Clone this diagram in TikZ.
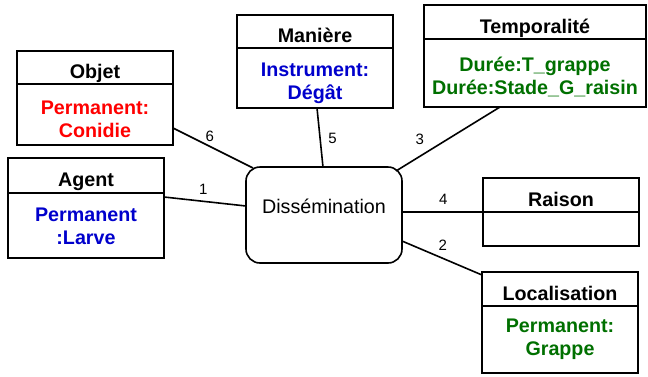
\documentclass[tikz,border=0pt]{standalone}
\usepackage{fontspec}
\setmainfont{Liberation Sans}
\usetikzlibrary{positioning}

\definecolor{rouge}{RGB}{255,0,0}
\definecolor{bleu}{RGB}{0,0,204}
\definecolor{vert}{RGB}{0,112,0}

% cales invisibles pour le placement vertical du texte
\newcommand{\haut}[1]{\rule{0pt}{#1}}
\newcommand{\bas}[1]{\rule[-#1]{0pt}{#1}}

\begin{document}
\begin{tikzpicture}[
				node distance=1cm and 1cm,
				head/.style={draw, line width=1.6pt, minimum width=156pt, minimum height=34pt, inner sep=0pt, outer sep=0pt, font=\fontsize{19.7}{23}\selectfont\bfseries, text height=25pt, text depth=3pt},
				body/.style={draw, line width=1.6pt, minimum width=156pt, inner sep=0pt, outer sep=0pt, align=center, font=\fontsize{19.7}{23}\selectfont\bfseries},
				event/.style={draw, line width=1.6pt, rounded corners=14pt, minimum width=156pt, minimum height=96pt, outer sep=0pt, font=\fontsize{19.7}{23}\selectfont, text height=18pt, text depth=22pt},
				num/.style={inner sep=1pt, font=\fontsize{15}{18}\selectfont},
				link/.style={line width=1.6pt}
				]
				\useasboundingbox (-324pt,215pt) rectangle (324pt,-161pt);
				
				% l'evenement
				\node[event] (diss) at (0,0) {Dissémination};
				
				% roles a gauche
				\node[head, minimum height=33pt, above left=83pt and 73pt of diss] (objet) {Objet};
				\node[body, minimum height=61pt, text=rouge, below=0pt of objet] (objetB) {\haut{22.4pt}Permanent:\\Conidie};
				
				\node[head, minimum height=35pt, above left=22pt and 82pt of diss.west] (agent) {Agent};
				\node[body, minimum height=65pt, text=bleu, below=0pt of agent] (agentB) {\haut{15.4pt}Permanent\\:Larve};
				
				% roles en haut
				\node[head, minimum height=33pt, above=119pt of diss, xshift=-9pt] (maniere) {Manière};
				\node[body, minimum height=60pt, text=bleu, below=0pt of maniere] (maniereB) {\haut{23.6pt}Instrument:\\Dégât};
				
				\node[head, minimum width=222pt, above right=128pt and 22pt of diss] (temp) {Temporalité};
				\node[body, minimum width=222pt, minimum height=68pt, text=vert, below=0pt of temp] (tempB) {\haut{24pt}Durée:T\_grappe\\Durée:Stade\_G\_raisin\bas{5pt}};
				
				% roles a droite
				\node[head, above right=3pt and 81pt of diss.east] (raison) {Raison};
				\node[body, minimum height=34pt, below=0pt of raison] (raisonB) {};
				
				\node[head, below right=9pt and 80pt of diss] (loc) {Localisation};
				\node[body, minimum height=67pt, text=vert, below=0pt of loc] (locB) {\haut{15.4pt}Permanent:\\Grappe\bas{6pt}};
				
				% liens
				\draw[link] ([yshift=-4pt]agentB.north east) -- node[num, pos=0.48, above=5.3pt] {1} ([yshift=9pt]diss.west);
				\draw[link] ([yshift=-26pt]diss.east) -- node[num, pos=0.51, above=5.8pt] {2} ([yshift=-3pt]loc.north west);
				\draw[link] ([xshift=-35pt]tempB.south) -- node[num, pos=0.77, above=9.5pt] {3} ([xshift=-6pt, yshift=-4pt]diss.north east);
				\draw[link] ([yshift=3pt]diss.east) -- node[num, pos=0.51, above=6pt] {4} (raison.south west);
				\draw[link] ([xshift=2pt]maniereB.south) -- node[num, pos=0.52, right=6.5pt] {5} ([xshift=-1pt]diss.north);
				\draw[link] ([yshift=-13.5pt]objetB.east) -- node[num, pos=0.46, above=3pt] {6} ([xshift=7pt, yshift=-1pt]diss.north west);
				
			\end{tikzpicture}
\end{document}
